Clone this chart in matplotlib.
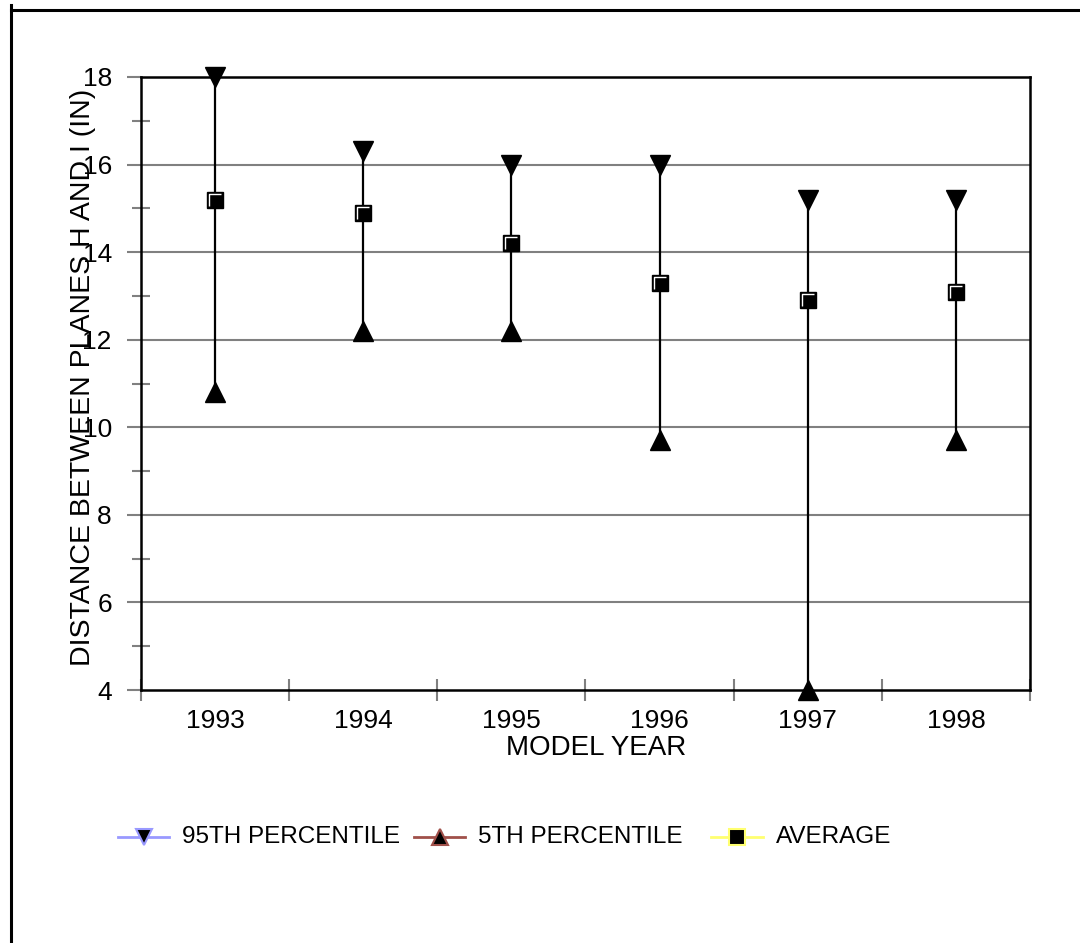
import matplotlib
matplotlib.use("Agg")
import matplotlib.pyplot as plt
from matplotlib.lines import Line2D
from matplotlib.path import Path

plt.rcParams["font.family"] = ["Liberation Sans", "DejaVu Sans"]

YEARS = ["1993", "1994", "1995", "1996", "1997", "1998"]
P95   = [18.0, 16.3, 16.0, 16.0, 15.2, 15.2]
P5    = [10.8, 12.2, 12.2, 9.7, 4.0, 9.7]
AVG   = [15.2, 14.9, 14.2, 13.3, 12.9, 13.1]

LEGEND_LABELS = ["95TH PERCENTILE", "5TH PERCENTILE", "AVERAGE"]
LEGEND_COLORS = ["#9999FF", "#A0504A", "#FFFF70"]
LEGEND_MARKERS = ["v", "^", "s"]

GRAY = "#808080"
FS = 19

W, H = 1080, 943
fig = plt.figure(figsize=(W / 100, H / 100), dpi=100)
ax = fig.add_axes([141 / W, 1 - 690 / H, 889 / W, 613 / H])

x = list(range(1, len(YEARS) + 1))

ax.vlines(x, P5, P95, color="black", lw=1.6, zorder=3)
ax.plot(x, P95, ls="none", marker="v", ms=14, color="black", zorder=4, clip_on=False)
ax.plot(x, P5, ls="none", marker="^", ms=14, color="black", zorder=4, clip_on=False)
ax.plot(x, AVG, ls="none", marker="s", ms=12, color="black", zorder=5)

# little white highlight inside the average squares
hl = Path([(-0.5, -0.5), (-0.5, 0.5), (0.5, 0.5)],
          [Path.MOVETO, Path.LINETO, Path.LINETO])
ax.plot(x, AVG, ls="none", marker=hl, ms=8, mfc="none", mec="white",
        mew=1.0, zorder=6)

ax.set_xlim(0.5, len(YEARS) + 0.5)
ax.set_ylim(4, 18)

# y axis
ax.set_yticks(range(4, 19, 2))
ax.set_yticks(range(5, 18, 2), minor=True)
ax.tick_params(axis="y", which="major", direction="out", length=10,
               width=1.5, color=GRAY, pad=11, labelsize=FS)
ax.tick_params(axis="y", which="minor", direction="inout", length=13,
               width=1.5, color=GRAY)
for v in range(6, 18, 2):
    ax.axhline(v, color=GRAY, lw=1.5, zorder=1)

# x axis: boundary ticks, labels on the centres
ax.set_xticks([i + 0.5 for i in range(0, len(YEARS) + 1)])
ax.set_xticklabels([])
ax.set_xticks(x, minor=True)
ax.set_xticklabels(YEARS, minor=True)
ax.tick_params(axis="x", which="major", direction="inout", length=16,
               width=1.5, color=GRAY)
ax.tick_params(axis="x", which="minor", length=0, pad=14, labelsize=FS)

for s in ax.spines.values():
    s.set_color("black")
    s.set_linewidth(1.8)

ax.set_ylabel("DISTANCE BETWEEN PLANES H AND I (IN)", fontsize=20.5)
ax.yaxis.set_label_coords(-0.065, 0.51)
ax.yaxis.label.set_va("center")
ax.text(0.512, -0.095, "MODEL YEAR", transform=ax.transAxes,
        ha="center", va="center", fontsize=20)

# legend drawn by hand
leg_y = 1 - 837 / H
handle_x = [(118, 169), (414, 465), (711, 763)]
text_x = [182, 478, 776]
for (x0, x1), tx, lab, col, mk in zip(handle_x, text_x, LEGEND_LABELS,
                                      LEGEND_COLORS, LEGEND_MARKERS):
    fig.add_artist(Line2D([x0 / W, x1 / W], [leg_y, leg_y], color=col, lw=2))
    fig.add_artist(Line2D([(x0 + x1) / 2 / W], [leg_y], marker=mk, ms=11,
                          mfc="black", mec=col, mew=1.5, ls="none"))
    fig.text(tx / W, leg_y, lab, ha="left", va="center", fontsize=17.5)

# outer frame
fig.add_artist(Line2D([11 / W, 11 / W], [0, 1 - 5 / H], color="black", lw=2.2))
fig.add_artist(Line2D([11 / W, 1], [1 - 10 / H, 1 - 10 / H], color="black", lw=2.2))

fig.savefig("out.png", dpi=100)
